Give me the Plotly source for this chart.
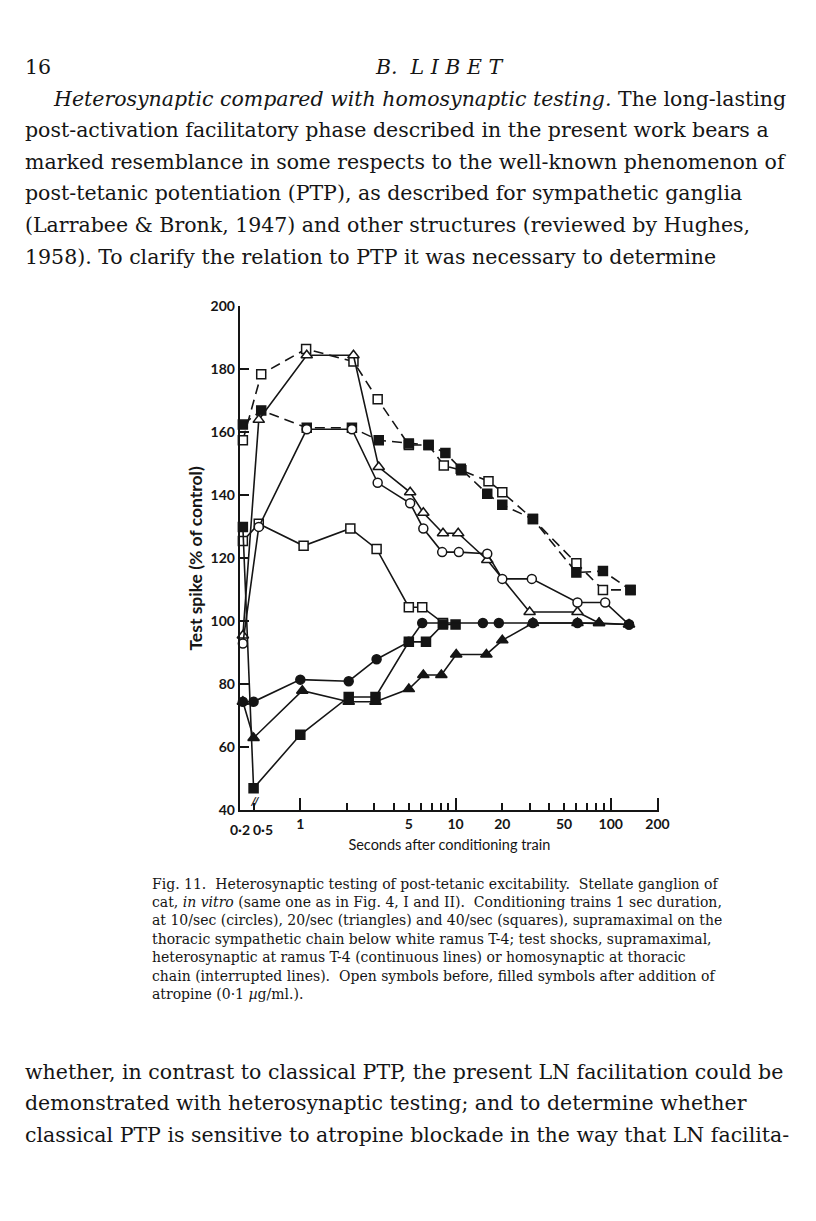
import numpy as np
import plotly.graph_objects as go

# seconds after conditioning train (0.2 sits on the broken part of the axis)
oc_t = [0.2, 0.54, 1.1, 2.15, 3.15, 5.1, 6.2, 8.2, 10.5, 16, 20, 31, 61, 92, 131]
oc_v = [93, 130, 161, 161, 144, 137.5, 129.5, 122, 122, 121.5, 113.5, 113.5, 106, 106, 99]

fc_t = [0.2, 0.5, 1.0, 2.05, 3.1, 5.0, 6.1, 15, 19, 31.5, 61, 131]
fc_v = [74.5, 74.5, 81.5, 81, 88, 93.5, 99.5, 99.5, 99.5, 99.5, 99.5, 99]

ot_t = [0.2, 0.54, 1.1, 2.2, 3.2, 5.1, 6.2, 8.3, 10.4, 16, 30, 61, 84]
ot_v = [95.5, 164, 184.5, 184.5, 149, 141, 134.5, 128, 128, 119.5, 103, 103, 99.5]

ft_t = [0.2, 0.5, 1.03, 2.05, 3.05, 5.0, 6.2, 8.1, 10.1, 15.8, 20, 31.5, 61, 84, 131]
ft_v = [74.5, 63, 78, 74.5, 74.5, 78.5, 83, 83, 89.5, 89.5, 94, 99.5, 99.5, 99.5, 99]

os_t = [0.2, 0.54, 1.05, 2.1, 3.1, 5.0, 6.1, 8.3]
os_v = [125.5, 131, 124, 129.5, 123, 104.5, 104.5, 99.5]

fs_t = [0.2, 0.5, 1.0, 2.05, 3.05, 5.0, 6.45, 8.3, 10]
fs_v = [130, 47, 64, 76, 76, 93.5, 93.5, 99, 99]

# homosynaptic (interrupted lines)
osh_t = [0.2, 0.56, 1.09, 2.2, 3.15, 5.0, 6.7, 8.4, 10.9, 16.3, 20, 31.5, 60, 89, 134]
osh_v = [157.5, 178.5, 186.5, 182.5, 170.5, 156, 156, 149.5, 148, 144.5, 141, 132.5, 118.5, 110, 110]

fsh_t = [0.2, 0.56, 1.1, 2.15, 3.2, 5.0, 6.7, 8.6, 10.8, 16, 20, 31.5, 60, 89, 134]
fsh_v = [162.5, 167, 161.5, 161.5, 157.5, 156.5, 156, 153.5, 148.5, 140.5, 137, 132.5, 115.5, 116, 110]

tick_t = [0.5, 1, 2, 3, 4, 5, 6, 7, 8, 9, 10, 20, 30, 40, 50, 60, 70, 80, 90, 100, 200]
tick_lab = ["", "1", "", "", "", "5", "", "", "", "", "10", "20", "", "", "50", "", "", "", "", "100", "200"]
long_t = [1, 10, 100, 200]
y_ticks = [40, 60, 80, 100, 120, 140, 160, 180, 200]

BREAK_POS = -0.37  # where 0.2 s lands on the broken log axis


def xpos(t):
    t = np.asarray(t, dtype=float)
    return np.where(t >= 0.5, np.log10(np.maximum(t, 1e-9)), BREAK_POS)


INK = '#151515'
DASH = '10px,6px'

series = [
    (osh_t, osh_v, 'square', False, DASH),
    (fsh_t, fsh_v, 'square', True, DASH),
    (os_t, os_v, 'square', False, 'solid'),
    (ot_t, ot_v, 'triangle-up', False, 'solid'),
    (oc_t, oc_v, 'circle', False, 'solid'),
    (fs_t, fs_v, 'square', True, 'solid'),
    (ft_t, ft_v, 'triangle-up', True, 'solid'),
    (fc_t, fc_v, 'circle', True, 'solid'),
]
sizes = {'square': 9, 'circle': 9, 'triangle-up': 10}

fig = go.Figure()
for t, v, sym, filled, dash in series:
    fig.add_trace(go.Scatter(
        x=xpos(t), y=v, mode='lines+markers',
        line=dict(color=INK, width=1.6, dash=dash),
        marker=dict(symbol=sym, size=sizes[sym], color=INK if filled else 'white',
                    line=dict(color=INK, width=1.5)),
        showlegend=False, cliponaxis=False,
    ))
# empty trace so the long-tick overlay axis gets drawn
fig.add_trace(go.Scatter(x=[], y=[], xaxis='x2', showlegend=False))

# the page body has an 8px margin, so the figure is 16px smaller than the window
OFF = 8
W, H = 800, 1205


def fx(px):
    return (px - OFF) / W


def fy(py):
    return 1 - (py - OFF) / H


xr = [-0.39, 2.31]
tick_font = dict(family='Lato', size=14, color=INK, weight='bold')

fig.update_layout(
    width=W, height=H, margin=dict(l=0, r=0, t=0, b=0),
    paper_bgcolor='white', plot_bgcolor='white',
    xaxis=dict(range=xr, domain=[fx(243), fx(668)], showgrid=False, zeroline=False,
               showline=True, linecolor=INK, linewidth=2,
               tickmode='array', tickvals=xpos(tick_t), ticktext=tick_lab, tickangle=0,
               ticks='inside', ticklen=7, tickwidth=1.8, tickcolor=INK, tickfont=tick_font,
               title=dict(text='Seconds after conditioning train', standoff=9,
                          font=dict(family='Lato', size=14.5, color=INK))),
    xaxis2=dict(range=xr, overlaying='x', anchor='y', side='bottom', showgrid=False,
                zeroline=False, showline=False, tickmode='array', tickvals=xpos(long_t),
                ticks='inside', ticklen=12, tickwidth=1.8, tickcolor=INK, showticklabels=False),
    yaxis=dict(range=[40, 200], domain=[fy(812.7), fy(301.6)], showgrid=False,
               zeroline=False, showline=True, linecolor=INK, linewidth=2,
               tickmode='array', tickvals=y_ticks, ticks='inside', ticklen=9, tickwidth=2,
               tickcolor=INK, tickfont=tick_font,
               title=dict(text='Test spike (% of control)', standoff=3,
                          font=dict(family='Lato', size=17.5, color=INK, weight='bold'))),
)

# the two labels on the broken end of the axis sit off their ticks
for t, lab, shift in [(0.2, '0·2', -3), (0.5, '0·5', 9)]:
    fig.add_annotation(xref='x', yref='paper', x=float(xpos(t)), y=fy(821), yanchor='top',
                       text=lab, xshift=shift, showarrow=False, font=tick_font)

# axis break mark
fig.add_annotation(xref='paper', yref='paper', x=fx(251), y=fy(812), text='<i>//</i>',
                   showarrow=False, font=dict(family='Lato', size=12, color=INK, weight='bold'))

serif = 'DejaVu Serif'


def text(x, y, s, size, anchor='left', italic=False):
    fig.add_annotation(xref='paper', yref='paper', x=fx(x), y=fy(y), text=s,
                       showarrow=False, xanchor=anchor, yanchor='middle',
                       font=dict(family=serif, size=size, color=INK,
                                 style='italic' if italic else 'normal'))


text(23, 59, '16', 20.5)
text(445, 59, 'B.  L I B E T', 20.5, anchor='center', italic=True)

body = [
    (52, 91, '<i>Heterosynaptic compared with homosynaptic testing.</i> The long-lasting'),
    (23, 123, 'post-activation facilitatory phase described in the present work bears a'),
    (23, 155, 'marked resemblance in some respects to the well-known phenomenon of'),
    (23, 187, 'post-tetanic potentiation (PTP), as described for sympathetic ganglia'),
    (23, 219, '(Larrabee &amp; Bronk, 1947) and other structures (reviewed by Hughes,'),
    (23, 251, '1958). To clarify the relation to PTP it was necessary to determine'),
    (23, 1078, 'whether, in contrast to classical PTP, the present LN facilitation could be'),
    (23, 1110, 'demonstrated with heterosynaptic testing; and to determine whether'),
    (23, 1142, 'classical PTP is sensitive to atropine blockade in the way that LN facilita-'),
]
for x, y, s in body:
    text(x, y, s, 20.5)

caption = [
    'Fig. 11.  Heterosynaptic testing of post-tetanic excitability.  Stellate ganglion of',
    'cat, <i>in vitro</i> (same one as in Fig. 4, I and II).  Conditioning trains 1 sec duration,',
    'at 10/sec (circles), 20/sec (triangles) and 40/sec (squares), supramaximal on the',
    'thoracic sympathetic chain below white ramus T-4; test shocks, supramaximal,',
    'heterosynaptic at ramus T-4 (continuous lines) or homosynaptic at thoracic',
    'chain (interrupted lines).  Open symbols before, filled symbols after addition of',
    'atropine (0·1 <i>µ</i>g/ml.).',
]
for i, s in enumerate(caption):
    text(152, 887 + i * 18.7, s, 14)

fig.write_html('out.html')
